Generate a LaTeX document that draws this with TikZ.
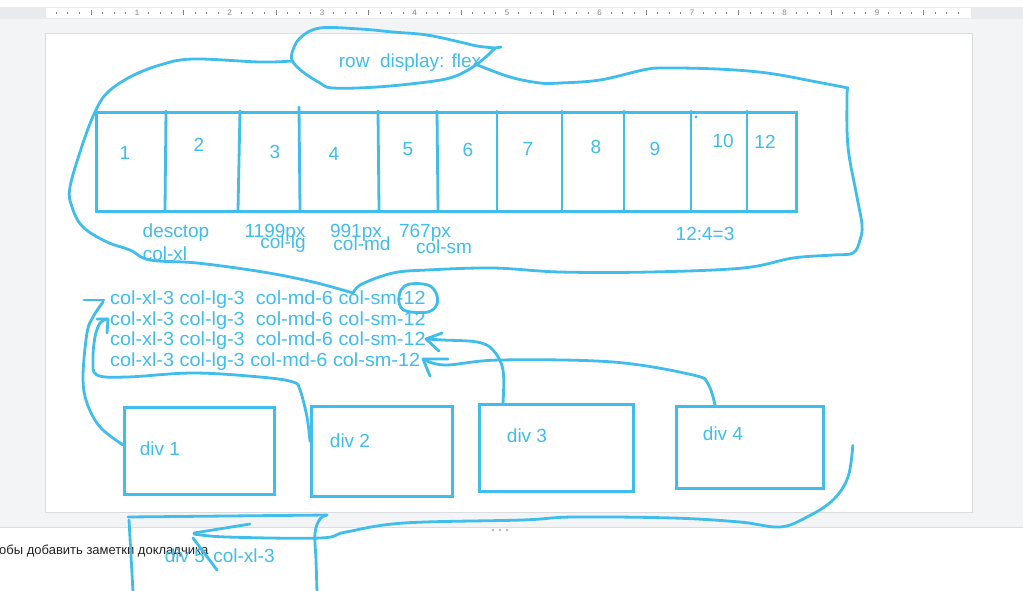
\documentclass[tikz,border=0pt]{standalone}
\usepackage{fontspec}
\setmainfont{Liberation Sans}
\usepackage{tikz}
\usetikzlibrary{positioning}
\definecolor{pen}{RGB}{64,189,235}
\definecolor{appgray}{RGB}{243,244,246}
\definecolor{rulergray}{RGB}{232,234,237}
\definecolor{edgegray}{RGB}{218,220,224}
\definecolor{tickgray}{RGB}{128,134,139}
\definecolor{notesink}{RGB}{32,33,36}
\tikzstyle{hand} = [draw=pen, line width=2.8pt, line cap=round, line join=round]
\tikzstyle{divbox} = [draw=pen, line width=2.8pt, rectangle, inner sep=0pt]
\tikzstyle{ink} = [text=pen, inner sep=0pt, font=\fontsize{19}{21}\selectfont]
\tikzstyle{classline} = [ink, anchor=west, font=\fontsize{19}{21}\selectfont\addfontfeature{FakeStretch=1.045}]
\tikzstyle{rulernum} = [text=tickgray, inner sep=0pt, font=\fontsize{8}{9}\selectfont]

\begin{document}
\begin{tikzpicture}[x=1pt, y=-1pt]
\useasboundingbox (0,0) rectangle (1023,590);
\fill[appgray] (0,0) rectangle (1023,590);
\fill[white] (0,0) rectangle (1023,7);
\fill[rulergray] (0,7) rectangle (1023,19);
\fill[white] (46,8) rectangle (971,18);
\foreach \k in {1,...,79} {
  \pgfmathsetmacro{\rx}{44.5+\k*11.5625}
  \pgfmathtruncatemacro{\rmod}{mod(\k,8)}
  \pgfmathtruncatemacro{\rhalf}{mod(\k,4)}
  \ifnum\rmod=0
    \pgfmathtruncatemacro{\rn}{\k/8}
    \node[rulernum] (r\rn) at (\rx,12.5) {\rn};
  \else\ifnum\rhalf=0
    \draw[tickgray, line width=0.5pt] (\rx,10) -- (\rx,15);
  \else
    \draw[tickgray, line width=0.5pt] (\rx,11.5) -- (\rx,13.5);
  \fi\fi
}
\node[draw=edgegray, fill=white, inner sep=0pt, minimum width=927pt, minimum height=479pt, anchor=north west] (slide) at (45,33) {};
\fill[white] (0,528) rectangle (1023,590);
\draw[edgegray] (0,527.5) -- (1023,527.5);
\foreach \d in {493,500,507} \fill[tickgray!60] (\d,530) circle (1.3);
\node[text=notesink, inner sep=0pt, anchor=west, font=\fontsize{13}{15}\selectfont] (notes) at (-1,551) {обы добавить заметки докладчика};

\node[ink] (rowtxt) at (410,63) {row\ \ display: flex};
\draw[hand] plot[smooth, tension=0.6] coordinates {(495,48) (477,46) (460,42) (427,35) (393,32) (360,29) (320,28) (300,38) (292,53) (293,62) (303,72) (320,83) (333,88) (377,87) (427,82) (453,77) (473,67) (488,55) (495,48)};
\draw[hand] (495,48) -- (501,47);

\node[divbox, minimum width=700pt, minimum height=99pt, anchor=north west] (grid) at (95,111) {};
\foreach \xa/\xb in {166/165,240/238,378/379,437/438,497/497,562/562,624/624,691/691,747/747}
  \draw[hand] (\xa,111) -- (\xb,210);
\draw[hand] (299,107) -- (300,210);
\fill[pen] (696,117) circle (1.6);
\foreach \n/\px/\py in {1/125/153, 2/199/145, 3/275/152, 4/334/154, 5/408/149, 6/468/150, 7/528/149, 8/596/147, 9/655/149, 10/723/141, 12/765/142}
  \node[ink] (n\n) at (\px,\py) {\n};

\node[ink] (desk) at (176,233) {desctop};
\node[ink] (xl) at (165,254) {col-xl};
\node[ink] (lgpx) at (275,233) {1199px};
\node[ink] (lg) at (283,244) {col-lg};
\node[ink] (mdpx) at (356,233) {991px};
\node[ink] (md) at (362,244) {col-md};
\node[ink] (smpx) at (425,233) {767px};
\node[ink] (sm) at (444,247) {col-sm};
\node[ink] (ratio) at (705,234) {12:4=3};

\draw[hand] plot[smooth, tension=0.6] coordinates {(292,61) (260,62) (193,59) (160,65) (130,77) (107,93) (95,112) (83,143) (70,187) (72,207) (83,227) (107,242) (130,250) (150,260) (197,263) (263,272) (313,282) (353,293)};
\draw[hand] plot[smooth, tension=0.6] coordinates {(353,293) (362,284) (393,273) (427,270) (493,268) (560,272) (650,272) (743,268) (793,258) (833,255) (853,253) (860,240) (862,225) (857,197) (848,147) (847,97) (848,88)};
\draw[hand] plot[smooth, tension=0.6] coordinates {(848,88) (817,82) (767,73) (717,69) (663,68) (643,70) (600,80) (560,83) (540,83) (510,77) (475,64)};

\node[classline] (l1) at (110,300) {col-xl-3 col-lg-3\ \ col-md-6 col-sm-12};
\node[classline, below=20.5pt of l1.west, anchor=west] (l2) {col-xl-3 col-lg-3\ \ col-md-6 col-sm-12};
\node[classline, below=20.5pt of l2.west, anchor=west] (l3) {col-xl-3 col-lg-3\ \ col-md-6 col-sm-12};
\node[classline, below=20.5pt of l3.west, anchor=west] (l4) {col-xl-3 col-lg-3 col-md-6 col-sm-12};
\draw[hand] plot[smooth cycle, tension=0.6] coordinates {(401,290) (410,284) (428,285) (436,293) (437,304) (428,312) (406,311) (399,303)};

\node[divbox, minimum width=150pt, minimum height=87pt, anchor=north west] (div1) at (123,406) {};
\node[divbox, minimum width=141pt, minimum height=90pt, anchor=north west] (div2) at (310,405) {};
\node[divbox, minimum width=154pt, minimum height=87pt, anchor=north west] (div3) at (478,403) {};
\node[divbox, minimum width=147pt, minimum height=82pt, anchor=north west] (div4) at (675,405) {};
\node[ink] (div1txt) at (160,449) {div 1};
\node[ink] (div2txt) at (350,441) {div 2};
\node[ink] (div3txt) at (527,436) {div 3};
\node[ink] (div4txt) at (723,434) {div 4};

\draw[hand] plot[smooth, tension=0.6] coordinates {([yshift=6pt]div1.west) (100,427) (87,403) (83,377) (87,333) (93,317) (103,302)};
\draw[hand] (84,300) -- (104,300);
\draw[hand] plot[smooth, tension=0.6] coordinates {([yshift=10pt]div2.west) (307,417) (300,390) (293,382) (260,377) (193,373) (127,377) (97,375) (93,360) (95,337) (100,323) (107,319)};
\draw[hand] (97,319) -- (108,319) -- (107,333);
\draw[hand] plot[smooth, tension=0.6] coordinates {([xshift=25pt]div3.north west) (503,370) (493,350) (477,342) (443,340) (426,339)};
\draw[hand] (442,333) -- (426,339) -- (439,351);
\draw[hand] plot[smooth, tension=0.6] coordinates {([xshift=40pt]div4.north west) (708,384) (693,375) (613,362) (500,360) (445,365) (423,359)};
\draw[hand] (448,359) -- (423,359) -- (430,376);

\draw[hand] (128,517) -- (327,515);
\draw[hand] (129,520) -- (133,592);
\draw[hand] plot[smooth, tension=0.6] coordinates {(327,515) (320,519) (315,533) (316,560) (317,592)};
\node[ink] (div5txt) at (185,556) {div 5};
\node[ink] (div5col) at (244,556) {col-xl-3};
\draw[hand] plot[smooth, tension=0.6] coordinates {([xshift=28pt, yshift=2pt]div4.east) (848,477) (833,500) (807,517) (780,527) (740,522) (673,518) (573,517) (522,520) (404,523) (346,532) (320,538) (227,537) (194,534)};
\draw[hand] (250,524) -- (194,533);
\draw[hand] (193,538) -- (217,570);
\end{tikzpicture}
\end{document}
